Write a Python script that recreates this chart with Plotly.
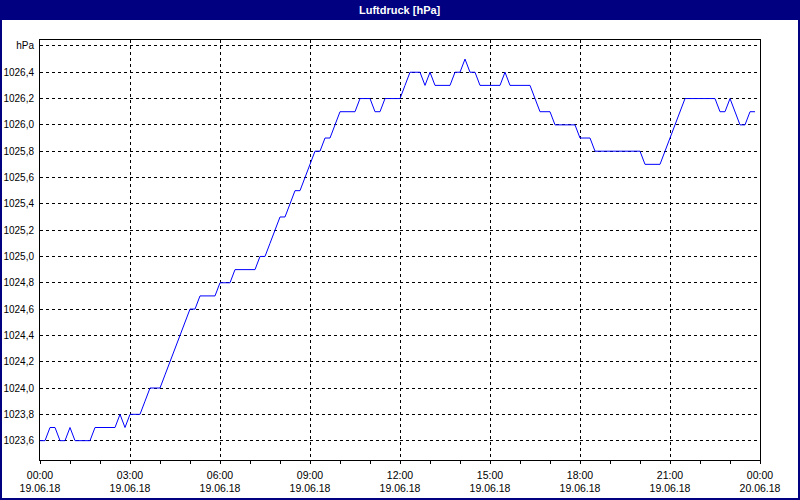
import pandas as pd
import plotly.graph_objects as go

# Luftdruck readings, every 10 minutes from 19.06.18 00:00 (one row per hour)
pressure = [
    1023.6, 1023.6, 1023.7, 1023.7, 1023.6, 1023.6,
    1023.7, 1023.6, 1023.6, 1023.6, 1023.6, 1023.7,
    1023.7, 1023.7, 1023.7, 1023.7, 1023.8, 1023.7,
    1023.8, 1023.8, 1023.8, 1023.9, 1024.0, 1024.0,
    1024.0, 1024.1, 1024.2, 1024.3, 1024.4, 1024.5,
    1024.6, 1024.6, 1024.7, 1024.7, 1024.7, 1024.7,
    1024.8, 1024.8, 1024.8, 1024.9, 1024.9, 1024.9,
    1024.9, 1024.9, 1025.0, 1025.0, 1025.1, 1025.2,
    1025.3, 1025.3, 1025.4, 1025.5, 1025.5, 1025.6,
    1025.7, 1025.8, 1025.8, 1025.9, 1025.9, 1026.0,
    1026.1, 1026.1, 1026.1, 1026.1, 1026.2, 1026.2,
    1026.2, 1026.1, 1026.1, 1026.2, 1026.2, 1026.2,
    1026.2, 1026.3, 1026.4, 1026.4, 1026.4, 1026.3,
    1026.4, 1026.3, 1026.3, 1026.3, 1026.3, 1026.4,
    1026.4, 1026.5, 1026.4, 1026.4, 1026.3, 1026.3,
    1026.3, 1026.3, 1026.3, 1026.4, 1026.3, 1026.3,
    1026.3, 1026.3, 1026.3, 1026.2, 1026.1, 1026.1,
    1026.1, 1026.0, 1026.0, 1026.0, 1026.0, 1026.0,
    1025.9, 1025.9, 1025.9, 1025.8, 1025.8, 1025.8,
    1025.8, 1025.8, 1025.8, 1025.8, 1025.8, 1025.8,
    1025.8, 1025.7, 1025.7, 1025.7, 1025.7, 1025.8,
    1025.9, 1026.0, 1026.1, 1026.2, 1026.2, 1026.2,
    1026.2, 1026.2, 1026.2, 1026.2, 1026.1, 1026.1,
    1026.2, 1026.1, 1026.0, 1026.0, 1026.1, 1026.1,
]
times = pd.date_range("2018-06-19 00:00", periods=len(pressure), freq="10min")

x_tick_times = pd.date_range("2018-06-19 00:00", "2018-06-20 00:00", freq="3h")
x_tick_text = [t.strftime("%H:%M") + "<br>" + t.strftime("%d.%m.%y") for t in x_tick_times]

y_tick_vals = [1023.6, 1023.8, 1024.0, 1024.2, 1024.4, 1024.6, 1024.8, 1025.0,
               1025.2, 1025.4, 1025.6, 1025.8, 1026.0, 1026.2, 1026.4, 1026.6]
y_tick_text = [f"{v:.1f}".replace(".", ",") for v in y_tick_vals[:-1]] + ["hPa"]

NAVY = "#000080"
FONT = "Liberation Sans"

fig = go.Figure()
fig.add_trace(go.Scatter(x=times, y=pressure, mode="lines",
                         line=dict(color="#0000FF", width=1), hoverinfo="skip"))

W, H = 800, 500
L, R, T, B = 40, 40, 40, 40
PW, PH = W - L - R, H - T - B

def px(xp):
    return (xp - L) / PW

def py(yp):
    return (H - B - yp) / PH

fig.update_layout(
    width=W, height=H,
    margin=dict(l=L, r=R, t=T, b=B, autoexpand=False),
    paper_bgcolor="white", plot_bgcolor="white",
    showlegend=False,
    font=dict(family=FONT, size=10, color="black"),
    xaxis=dict(
        automargin=False,
        range=[x_tick_times[0], x_tick_times[-1]],
        tickmode="array", tickvals=list(x_tick_times), ticktext=x_tick_text,
        ticks="outside", ticklen=3, tickcolor="black", tickwidth=1,
        ticklabelstandoff=2,
        minor=dict(dtick=3600000, tick0="2018-06-19", ticks="outside", ticklen=3,
                   tickcolor="black", tickwidth=1, showgrid=False),
        showgrid=True, gridcolor="black", gridwidth=1, griddash="3px,3px",
        showline=True, linecolor="black", linewidth=1, mirror=True,
        zeroline=False, tickfont=dict(family=FONT, size=10.5, color="black"),
    ),
    yaxis=dict(
        automargin=False,
        range=[1023.453, 1026.645],
        tickmode="array", tickvals=y_tick_vals, ticktext=y_tick_text,
        ticks="", ticklabelstandoff=3,
        showgrid=True, gridcolor="black", gridwidth=1, griddash="3px,3px",
        showline=True, linecolor="black", linewidth=1, mirror=True,
        zeroline=False, tickfont=dict(family=FONT, size=10, color="black"),
    ),
    shapes=[
        dict(type="rect", xref="paper", yref="paper",
             x0=px(0), x1=px(W), y0=py(20), y1=py(0),
             fillcolor=NAVY, line=dict(width=0), layer="above"),
        dict(type="rect", xref="paper", yref="paper",
             x0=px(1), x1=px(W - 1), y0=py(H - 1), y1=py(1),
             fillcolor="rgba(0,0,0,0)", line=dict(color=NAVY, width=2), layer="above"),
    ],
    annotations=[
        dict(text="<b>Luftdruck [hPa]</b>", xref="paper", yref="paper",
             x=0.5, y=py(10), xanchor="center", yanchor="middle", showarrow=False,
             font=dict(family=FONT, size=11, color="white")),
    ],
)

fig.write_html("out.html", config={"displayModeBar": False},
               post_script="document.body.style.margin='0px';")
